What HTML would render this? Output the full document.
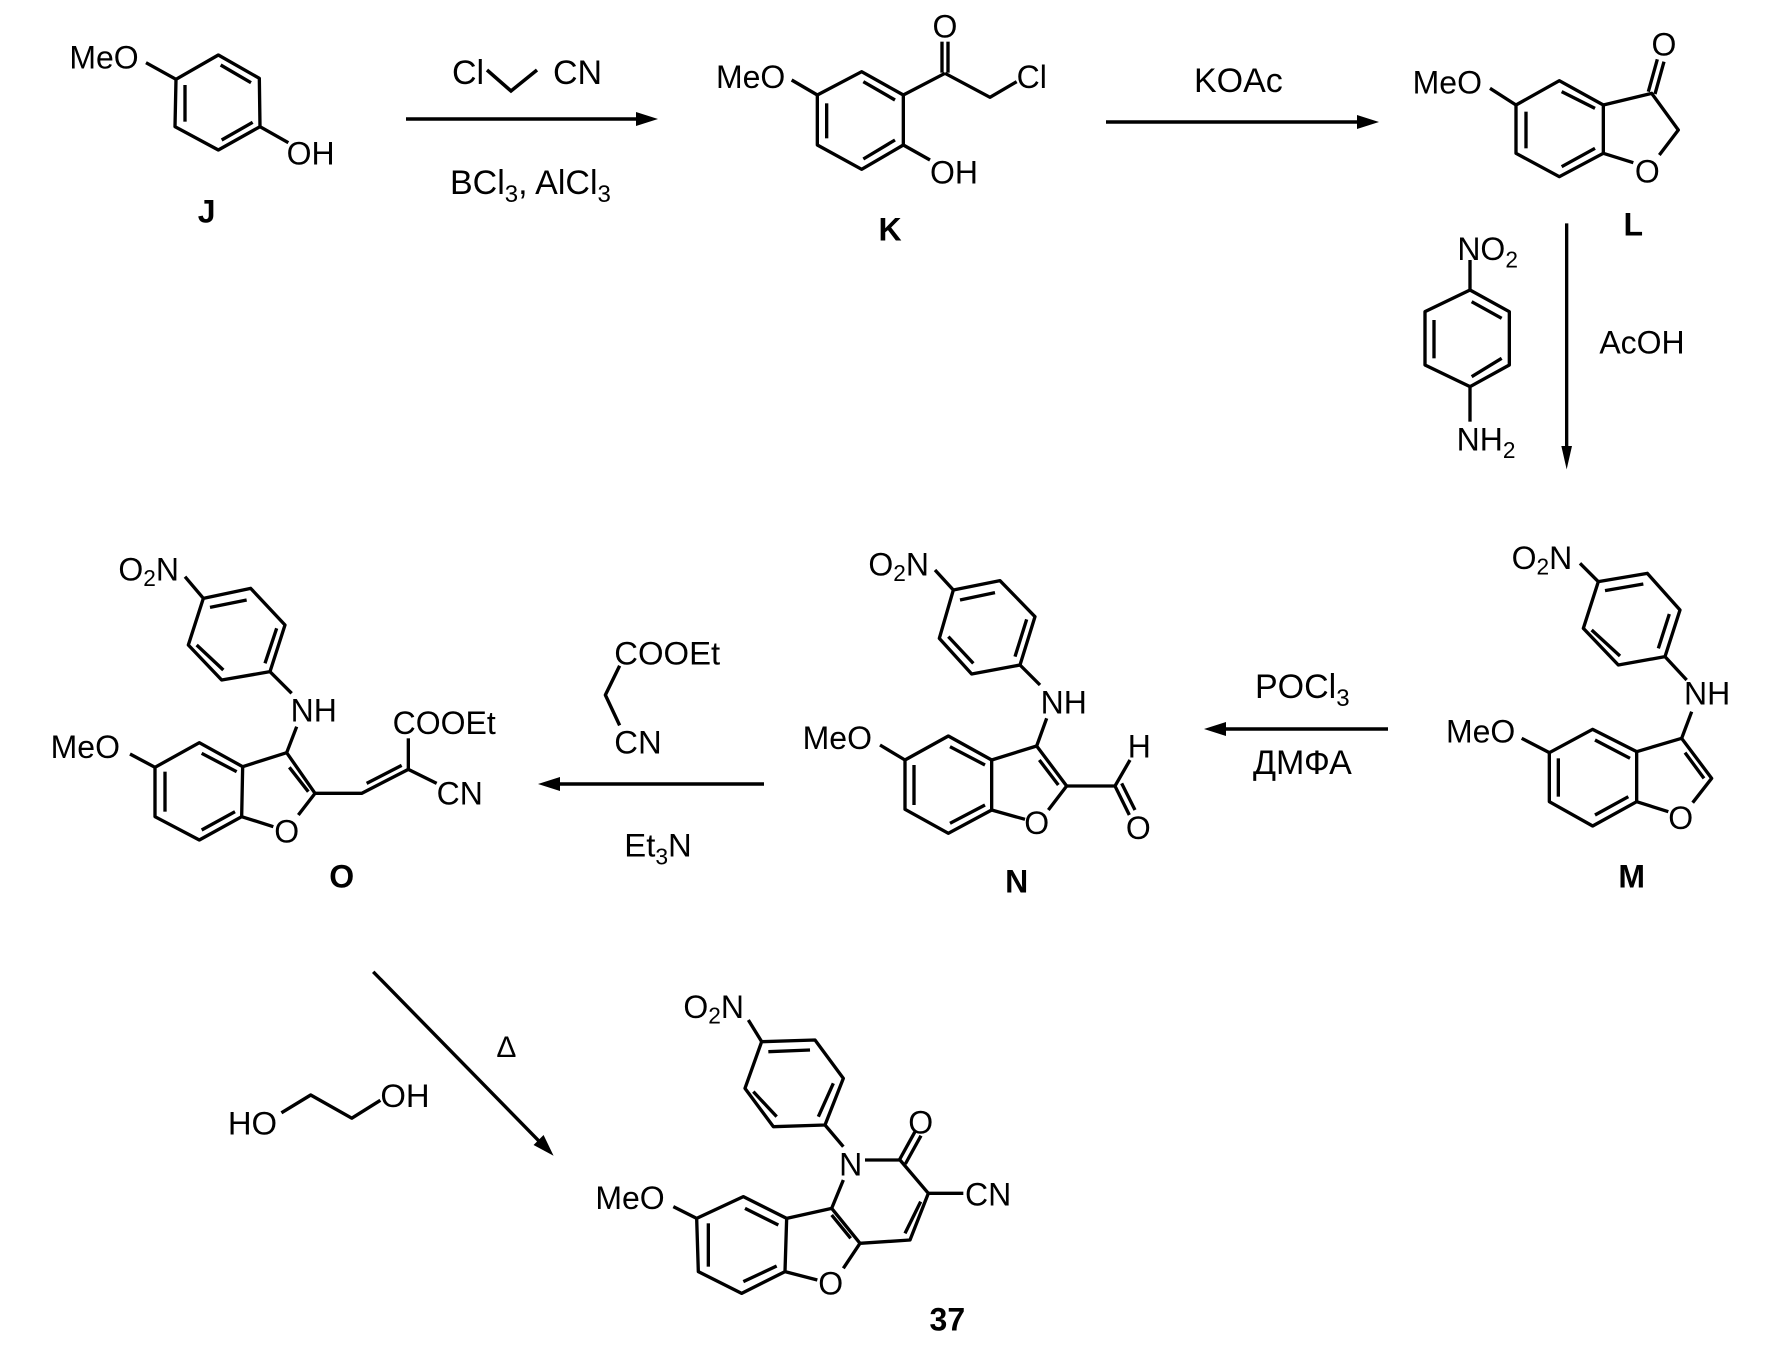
<!DOCTYPE html>
<html><head><meta charset="utf-8"><style>
html,body{margin:0;padding:0;background:#fff;}
svg{display:block;}
text{font-family:"Liberation Sans",Arial,sans-serif;fill:#000;}
</style></head><body>
<svg xmlns="http://www.w3.org/2000/svg" width="1773" height="1347" viewBox="0 0 1773 1347">
<rect width="1773" height="1347" fill="#fff"/>

<g stroke="#000" stroke-width="3.5" fill="none">
<line x1="406" y1="119" x2="645" y2="119"/>
<polyline points="487,70 511,91 537,70"/>
<line x1="1106" y1="122" x2="1366" y2="122"/>
<line x1="1218" y1="729" x2="1388" y2="729"/>
<line x1="552" y1="784" x2="764" y2="784"/>
</g>
<g fill="#000">
<polygon points="658,119 636,112 636,126"/>
<polygon points="1379,122 1357,115 1357,129"/>
<polygon points="1204,729 1226,722 1226,736"/>
<polygon points="538,784 560,777 560,791"/>
</g>
<g font-size="34">
<text x="452" y="84">Cl</text>
<text x="553" y="84">CN</text>
<text x="450" y="194">BCl<tspan font-size="24" dy="8">3</tspan><tspan dy="-8">, AlCl</tspan><tspan font-size="24" dy="8">3</tspan></text>
<text x="1194" y="92">KOAc</text>
<text x="1255" y="698">POCl<tspan font-size="24" dy="8">3</tspan></text>
<text x="1253" y="774">ДМФА</text>
</g>

<!-- J -->
<g transform="translate(50,30) scale(0.33333)">
<g stroke="#000" stroke-width="10" fill="none" stroke-linejoin="round">
<polygon points="505,75 628,145 630,290 505,360 375,290 378,148"/>
<line x1="405" y1="165" x2="405" y2="275"/>
<line x1="512" y1="105" x2="603" y2="158"/>
<line x1="515" y1="330" x2="608" y2="277"/>
<line x1="288" y1="98" x2="378" y2="148"/>
<line x1="630" y1="290" x2="715" y2="338"/>
</g>
<text x="58" y="115" font-size="96">MeO</text>
<text x="710" y="404" font-size="96">OH</text>
<text x="470" y="577" font-size="96" font-weight="bold" text-anchor="middle">J</text>
</g>

<!-- K -->
<g transform="translate(700,10) scale(0.33333)">
<g stroke="#000" stroke-width="10" fill="none" stroke-linejoin="round">
<polygon points="485,185 610,255 610,405 485,478 352,405 352,255"/>
<line x1="380" y1="280" x2="380" y2="385"/>
<line x1="490" y1="215" x2="585" y2="270"/>
<line x1="585" y1="390" x2="490" y2="447"/>
<line x1="275" y1="210" x2="352" y2="255"/>
<line x1="610" y1="255" x2="735" y2="190"/>
<line x1="726" y1="188" x2="726" y2="95"/>
<line x1="744" y1="188" x2="744" y2="95"/>
<polyline points="735,190 870,262 950,215"/>
<line x1="610" y1="405" x2="690" y2="450"/>
</g>
<text x="48" y="234" font-size="96">MeO</text>
<text x="735" y="82" font-size="96" text-anchor="middle">O</text>
<text x="950" y="234" font-size="96">Cl</text>
<text x="690" y="520" font-size="96">OH</text>
<text x="570" y="692" font-size="96" font-weight="bold" text-anchor="middle">K</text>
</g>

<!-- L -->
<g transform="translate(1400,20) scale(0.33333)">
<g stroke="#000" stroke-width="10" fill="none" stroke-linejoin="round">
<polygon points="478,182 610,255 610,400 478,470 348,400 348,255"/>
<line x1="378" y1="275" x2="378" y2="385"/>
<line x1="485" y1="215" x2="585" y2="265"/>
<line x1="585" y1="385" x2="485" y2="440"/>
<line x1="270" y1="205" x2="348" y2="255"/>
<polyline points="610,255 755,220 835,330 778,405"/>
<line x1="700" y1="428" x2="610" y2="400"/>
<line x1="745" y1="215" x2="772" y2="118"/>
<line x1="765" y1="222" x2="792" y2="125"/>
</g>
<text x="38" y="220" font-size="96">MeO</text>
<text x="742" y="487" font-size="96" text-anchor="middle">O</text>
<text x="792" y="107" font-size="96" text-anchor="middle">O</text>
<text x="700" y="647" font-size="96" font-weight="bold" text-anchor="middle">L</text>
</g>

<!-- nitroaniline + vertical arrow -->
<g transform="translate(1420,210) scale(0.33333)">
<g stroke="#000" stroke-width="10" fill="none" stroke-linejoin="round">
<polygon points="150,240 268,305 268,465 150,530 15,465 15,305"/>
<line x1="155" y1="275" x2="245" y2="325"/>
<line x1="42" y1="330" x2="42" y2="445"/>
<line x1="245" y1="445" x2="155" y2="500"/>
<line x1="150" y1="150" x2="150" y2="240"/>
<line x1="150" y1="530" x2="150" y2="635"/>
<line x1="440" y1="40" x2="440" y2="720"/>
</g>
<polygon points="440,778 424,708 456,708" fill="#000"/>
<text x="112" y="150" font-size="96">NO<tspan font-size="68" dy="22">2</tspan></text>
<text x="110" y="722" font-size="96">NH<tspan font-size="68" dy="22">2</tspan></text>
<text x="538" y="430" font-size="96">AcOH</text>
</g>

<!-- M -->
<g transform="translate(1410,530) scale(0.33333)">
<g stroke="#000" stroke-width="10" fill="none" stroke-linejoin="round">
<polygon points="565,155 712,130 810,240 765,380 625,405 520,295"/>
<line x1="585" y1="182" x2="700" y2="162"/>
<line x1="778" y1="252" x2="745" y2="355"/>
<line x1="545" y1="300" x2="630" y2="378"/>
<line x1="510" y1="100" x2="565" y2="155"/>
<line x1="765" y1="380" x2="830" y2="450"/>
<line x1="845" y1="545" x2="815" y2="625"/>
<polygon points="548,598 680,665 680,815 548,888 418,815 418,668"/>
<line x1="555" y1="630" x2="660" y2="685"/>
<line x1="445" y1="685" x2="445" y2="800"/>
<line x1="655" y1="800" x2="555" y2="855"/>
<line x1="335" y1="625" x2="418" y2="668"/>
<polyline points="680,665 815,625 905,745 848,818"/>
<line x1="825" y1="668" x2="882" y2="745"/>
<line x1="680" y1="815" x2="775" y2="845"/>
</g>
<text x="305" y="117" font-size="96">O<tspan font-size="68" dy="16">2</tspan><tspan dy="-16">N</tspan></text>
<text x="822" y="524" font-size="96">NH</text>
<text x="108" y="637" font-size="96">MeO</text>
<text x="812" y="897" font-size="96" text-anchor="middle">O</text>
<text x="665" y="1072" font-size="96" font-weight="bold" text-anchor="middle">M</text>
</g>

<!-- N -->
<g transform="translate(790,530) scale(0.33333)">
<g stroke="#000" stroke-width="10" fill="none" stroke-linejoin="round">
<polygon points="490,180 630,152 735,260 690,405 545,432 448,325"/>
<line x1="510" y1="210" x2="615" y2="188"/>
<line x1="710" y1="268" x2="675" y2="380"/>
<line x1="475" y1="320" x2="550" y2="400"/>
<line x1="435" y1="120" x2="490" y2="180"/>
<line x1="690" y1="405" x2="750" y2="465"/>
<line x1="770" y1="565" x2="740" y2="648"/>
<polygon points="475,618 605,690 605,840 475,910 345,838 345,690"/>
<line x1="480" y1="650" x2="585" y2="705"/>
<line x1="372" y1="705" x2="372" y2="825"/>
<line x1="585" y1="825" x2="480" y2="880"/>
<line x1="270" y1="645" x2="345" y2="690"/>
<polyline points="605,690 740,648 830,768 775,840"/>
<line x1="748" y1="690" x2="805" y2="765"/>
<line x1="605" y1="840" x2="705" y2="868"/>
<polyline points="830,768 975,768 1020,690"/>
<line x1="975" y1="768" x2="1018" y2="855"/>
<line x1="995" y1="760" x2="1035" y2="840"/>
</g>
<text x="235" y="137" font-size="96">O<tspan font-size="68" dy="16">2</tspan><tspan dy="-16">N</tspan></text>
<text x="752" y="550" font-size="96">NH</text>
<text x="38" y="657" font-size="96">MeO</text>
<text x="740" y="912" font-size="96" text-anchor="middle">O</text>
<text x="1048" y="682" font-size="96" text-anchor="middle">H</text>
<text x="1045" y="927" font-size="96" text-anchor="middle">O</text>
<text x="680" y="1087" font-size="96" font-weight="bold" text-anchor="middle">N</text>
</g>

<!-- O -->
<g transform="translate(40,530) scale(0.33333)">
<g stroke="#000" stroke-width="10" fill="none" stroke-linejoin="round">
<polygon points="490,205 632,175 735,285 690,425 545,450 445,345"/>
<line x1="510" y1="232" x2="620" y2="210"/>
<line x1="710" y1="295" x2="675" y2="400"/>
<line x1="470" y1="345" x2="550" y2="420"/>
<line x1="435" y1="140" x2="490" y2="205"/>
<line x1="690" y1="425" x2="755" y2="490"/>
<line x1="770" y1="590" x2="740" y2="668"/>
<polygon points="478,638 608,710 605,860 478,930 345,860 345,712"/>
<line x1="485" y1="670" x2="590" y2="725"/>
<line x1="375" y1="725" x2="375" y2="845"/>
<line x1="585" y1="845" x2="485" y2="900"/>
<line x1="270" y1="672" x2="345" y2="712"/>
<polyline points="608,710 740,668 825,790 775,855"/>
<line x1="748" y1="712" x2="805" y2="785"/>
<line x1="605" y1="860" x2="700" y2="890"/>
<polyline points="825,790 965,790 1105,718 1190,760"/>
<line x1="980" y1="760" x2="1085" y2="706"/>
<line x1="1105" y1="718" x2="1105" y2="625"/>
</g>
<text x="235" y="152" font-size="96">O<tspan font-size="68" dy="16">2</tspan><tspan dy="-16">N</tspan></text>
<text x="752" y="574" font-size="96">NH</text>
<text x="32" y="684" font-size="96">MeO</text>
<text x="740" y="937" font-size="96" text-anchor="middle">O</text>
<text x="1058" y="612" font-size="96">COOEt</text>
<text x="1190" y="824" font-size="96">CN</text>
<text x="905" y="1072" font-size="96" font-weight="bold" text-anchor="middle">O</text>
</g>

<!-- malononitrile, glycol, diagonal arrow -->
<g transform="translate(200,620) scale(0.35714)">
<g stroke="#000" stroke-width="9.5" fill="none" stroke-linejoin="round">
<polyline points="1175,128 1135,210 1175,295"/>
<polyline points="228,1380 310,1330 425,1395 505,1345"/>
<line x1="485" y1="985" x2="955" y2="1465"/>
</g>
<polygon points="990,1500 934,1470 962,1442" fill="#000"/>
<text x="1160" y="124" font-size="92">COOEt</text>
<text x="1160" y="374" font-size="92">CN</text>
<text x="1188" y="662" font-size="92">Et<tspan font-size="64" dy="22">3</tspan><tspan dy="-22">N</tspan></text>
<text x="830" y="1224" font-size="84">Δ</text>
<text x="78" y="1440" font-size="92">HO</text>
<text x="505" y="1364" font-size="92">OH</text>
</g>

<!-- 37 -->
<g transform="translate(580,980) scale(0.33333)">
<g stroke="#000" stroke-width="10" fill="none" stroke-linejoin="round">
<polygon points="545,185 705,180 790,295 735,435 580,440 495,325"/>
<line x1="565" y1="215" x2="690" y2="210"/>
<line x1="760" y1="310" x2="715" y2="410"/>
<line x1="590" y1="410" x2="520" y2="335"/>
<line x1="505" y1="120" x2="545" y2="185"/>
<line x1="735" y1="435" x2="790" y2="500"/>
<polyline points="855,540 960,540 1045,640 990,780 840,790 790,865"/>
<line x1="958" y1="540" x2="1005" y2="455"/>
<line x1="976" y1="552" x2="1023" y2="467"/>
<line x1="1045" y1="640" x2="1150" y2="640"/>
<line x1="1022" y1="665" x2="975" y2="760"/>
<polyline points="790,600 755,685 840,790"/>
<line x1="812" y1="775" x2="755" y2="705"/>
<line x1="755" y1="685" x2="620" y2="715"/>
<polygon points="350,715 490,650 620,715 615,875 485,940 355,875"/>
<line x1="495" y1="685" x2="595" y2="735"/>
<line x1="385" y1="730" x2="385" y2="860"/>
<line x1="590" y1="858" x2="490" y2="905"/>
<line x1="615" y1="875" x2="712" y2="900"/>
<line x1="280" y1="680" x2="350" y2="715"/>
</g>
<text x="310" y="114" font-size="96">O<tspan font-size="68" dy="16">2</tspan><tspan dy="-16">N</tspan></text>
<text x="812" y="587" font-size="96" text-anchor="middle">N</text>
<text x="1022" y="460" font-size="96" text-anchor="middle">O</text>
<text x="1155" y="677" font-size="96">CN</text>
<text x="46" y="687" font-size="96">MeO</text>
<text x="752" y="944" font-size="96" text-anchor="middle">O</text>
<text x="1102" y="1052" font-size="96" font-weight="bold" text-anchor="middle">37</text>
</g>
</svg>
</body></html>
